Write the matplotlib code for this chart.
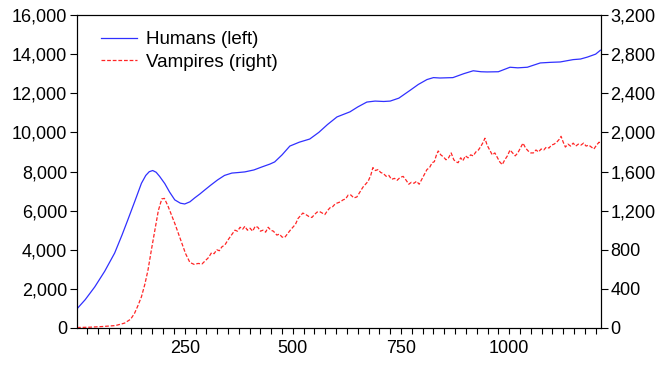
import matplotlib.pyplot as plt
from matplotlib.ticker import MultipleLocator, FuncFormatter

plt.rcParams['font.family'] = ['Liberation Sans', 'DejaVu Sans']

# Humans (left axis)
human_t = [1, 20, 42, 65, 88, 105, 118, 135, 150, 160, 168, 176, 184, 192, 204, 215, 227, 240,
           250, 262, 273, 285, 296, 310, 326, 342, 359, 375, 389, 410, 428, 447, 458, 475, 493,
           515, 539, 560, 580, 602, 632, 650, 671, 690, 710, 725, 745, 771, 790, 810, 825,
           840, 870, 895, 917, 935, 949, 975, 1002, 1020, 1042, 1072, 1095, 1118, 1148,
           1165, 1181, 1200, 1211]
humans = [980, 1450, 2100, 2900, 3830, 4750, 5500, 6500, 7400, 7800, 7990, 8050, 7960, 7750,
          7380, 6950, 6550, 6380, 6340, 6450, 6650, 6850, 7050, 7300, 7570, 7800, 7920, 7950,
          7980, 8080, 8230, 8380, 8490, 8850, 9300, 9500, 9660, 10000, 10400, 10790, 11050,
          11300, 11550, 11600, 11580, 11600, 11750, 12150, 12450, 12700, 12800, 12780, 12800,
          13000, 13150, 13100, 13090, 13100, 13330, 13300, 13330, 13550, 13580, 13600, 13720,
          13750, 13850, 14000, 14200]

# Vampires (right axis)
vamp_t = [1, 30, 60, 90, 111, 125, 134, 142, 150, 158, 165, 173, 181, 189, 197, 203, 211, 219,
          227, 235, 243, 252, 262, 272, 281, 290, 298, 305, 312, 318, 324, 330, 336, 343, 350,
          358, 366, 372, 378, 384, 389, 395, 401, 407, 413, 419, 425, 431, 437, 443, 449, 455,
          463, 469, 475, 481, 487, 494, 500, 506, 512, 518, 523, 530, 537, 544, 550, 556, 562,
          568, 574, 580, 586, 592, 598, 604, 610, 616, 622, 628, 634, 641, 648, 655, 662, 668,
          674, 680, 685, 691, 697, 703, 709, 716, 722, 728, 735, 741, 748, 755, 762, 768, 774,
          780, 786, 792, 798, 804, 810, 816, 822, 827, 832, 836, 842, 848, 854, 860, 866, 872,
          877, 882, 888, 893, 899, 905, 911, 917, 923, 929, 935, 940, 944, 949, 955, 961, 967,
          973, 978, 984, 990, 996, 1002, 1008, 1014, 1020, 1026, 1032, 1038, 1044, 1050, 1056,
          1062, 1068, 1074, 1080, 1086, 1092, 1098, 1104, 1110, 1116, 1120, 1125, 1130, 1136,
          1142, 1148, 1154, 1160, 1166, 1172, 1178, 1184, 1190, 1196, 1202, 1208, 1211]
vampires = [5, 8, 15, 25, 50, 90, 150, 230, 320, 450, 590, 800, 1000, 1200, 1320, 1325, 1250,
            1160, 1070, 970, 870, 760, 670, 650, 660, 655, 690, 720, 770, 760, 800, 790, 830,
            850, 900, 950, 1000, 990, 1030, 1010, 1040, 1000, 1020, 990, 1040, 1030, 990, 1000,
            980, 1030, 1000, 990, 950, 960, 930, 925, 960, 1000, 1030, 1060, 1120, 1150, 1175,
            1160, 1140, 1130, 1160, 1185, 1190, 1175, 1160, 1200, 1230, 1240, 1270, 1280, 1290,
            1310, 1320, 1360, 1360, 1330, 1340, 1390, 1440, 1470, 1500, 1560, 1640, 1610, 1620,
            1590, 1580, 1550, 1560, 1520, 1530, 1510, 1540, 1550, 1510, 1470, 1490, 1480, 1500,
            1470, 1520, 1570, 1620, 1640, 1690, 1700, 1770, 1810, 1770, 1750, 1720, 1740, 1790,
            1720, 1700, 1690, 1740, 1710, 1760, 1740, 1770, 1760, 1800, 1820, 1860, 1900, 1940,
            1870, 1820, 1770, 1790, 1740, 1700, 1670, 1720, 1760, 1820, 1790, 1760, 1790, 1840,
            1890, 1840, 1810, 1790, 1790, 1820, 1800, 1830, 1820, 1850, 1840, 1870, 1880, 1900,
            1930, 1960, 1900, 1850, 1880, 1860, 1890, 1860, 1880, 1870, 1890, 1860, 1870, 1850,
            1830, 1870, 1900, 1880]

fig = plt.figure(figsize=(6.61, 3.68), dpi=100)
ax = fig.add_axes([0.1165, 0.1087, 0.7925, 0.8505])
ax2 = ax.twinx()

l1, = ax.plot(human_t, humans, color='#3030ff', lw=0.9)
l2, = ax2.plot(vamp_t, vampires, color='#ff2525', lw=0.9, ls=(0, (3, 1.5)))

ax.set_xlim(1, 1212)
ax.set_ylim(0, 16000)
ax2.set_ylim(0, 3200)

ax.xaxis.set_major_locator(MultipleLocator(250))
ax.xaxis.set_minor_locator(MultipleLocator(25))
ax.yaxis.set_major_locator(MultipleLocator(2000))
ax2.yaxis.set_major_locator(MultipleLocator(400))
comma = FuncFormatter(lambda v, p: f'{int(v):,}')
ax.yaxis.set_major_formatter(comma)
ax2.yaxis.set_major_formatter(comma)

ax.tick_params(axis='both', which='both', direction='out', labelsize=13, width=0.8)
ax.tick_params(axis='y', length=5, pad=2)
ax.tick_params(axis='x', which='major', length=4, pad=5)
ax.tick_params(axis='x', which='minor', length=4)
ax2.tick_params(axis='y', direction='out', length=5, labelsize=13, width=0.8, pad=2)

for a in (ax, ax2):
    for s in a.spines.values():
        s.set_linewidth(0.8)

ax.legend([l1, l2], ['Humans (left)', 'Vampires (right)'], loc='upper left',
          bbox_to_anchor=(0.025, 0.985), frameon=False, fontsize=13.5,
          handlelength=1.9, handletextpad=0.5, labelspacing=0.3, borderaxespad=0.2)

fig.savefig('out.png', dpi=100)
